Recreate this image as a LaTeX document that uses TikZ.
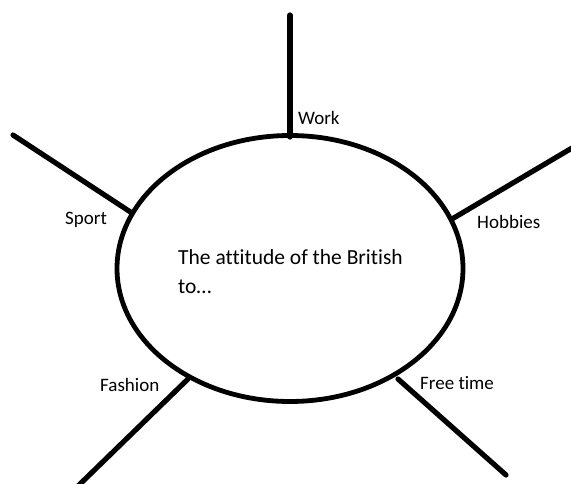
\documentclass[tikz,border=0pt]{standalone}
\usepackage{fontspec}
\setmainfont{Carlito}[Ligatures=NoCommon]
\usetikzlibrary{shapes.geometric}
\begin{document}
\begin{tikzpicture}[x=1pt,y=-1pt,
  spoke/.style={line width=5.2pt,line cap=round},
  lbl/.style={font=\fontsize{19}{22}\selectfont,inner sep=0pt,anchor=west},
  ring/.style={draw,line width=4.8pt,ellipse,minimum width=346pt,minimum height=266pt,inner sep=0pt}]
\useasboundingbox[fill=white] (0,0) rectangle (571,484);
\node[ring] (hub) at (290,268.5) {};
\node[font=\fontsize{21.5}{29}\selectfont,align=left,anchor=north west,inner sep=0pt] (title) at (178,249) {The attitude of the British\\to\ldots};
% spoke ends
\coordinate (w1) at (290,137); \coordinate (w2) at (290,15);
\coordinate (s1) at (132,213); \coordinate (s2) at (13,135);
\coordinate (h1) at (452,219); \coordinate (h2) at (572,148);
\coordinate (f1) at (188,379); \coordinate (f2) at (78,486);
\coordinate (t1) at (398,379); \coordinate (t2) at (506,475);
\draw[spoke] (w1) -- (w2);
\draw[spoke] (s1) -- (s2);
\draw[spoke] (h1) -- (h2);
\draw[spoke] (f1) -- (f2);
\draw[spoke] (t1) -- (t2);
\node[lbl] (work) at (298,118) {Work};
\node[lbl] (sport) at (65,220) {Sport};
\node[lbl] (hobbies) at (477,222) {Hobbies};
\node[lbl] (fashion) at (100,385) {Fashion};
\node[lbl] (free) at (420,383) {Free time};
\end{tikzpicture}
\end{document}
